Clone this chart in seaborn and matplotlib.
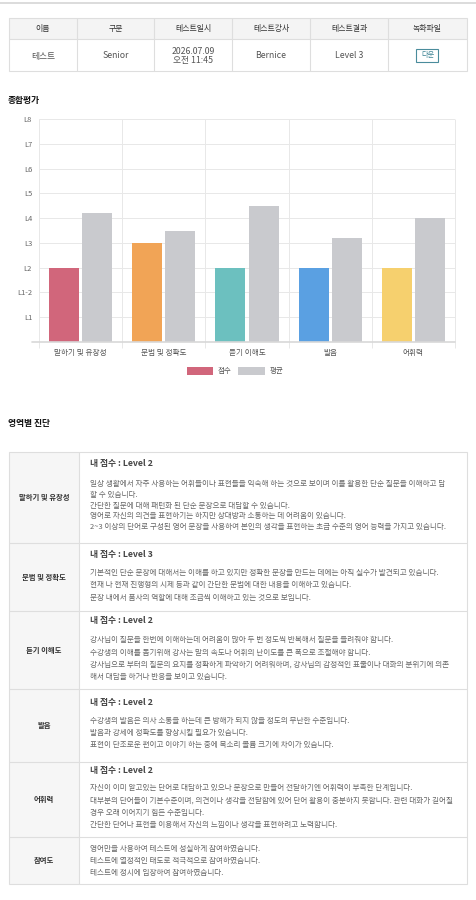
import matplotlib
matplotlib.use("Agg")
import matplotlib.pyplot as plt
from matplotlib.patches import Rectangle
from matplotlib.lines import Line2D
import seaborn as sns
import pandas as pd

# ---------------- data ----------------
categories = ['말하기 및 유창성', '문법 및 정확도', '듣기 이해도', '발음', '어휘력']
score_values = [3, 4, 3, 3, 3]
avg_values = [5.2, 4.5, 5.5, 4.2, 5.0]
series_names = ['점수', '평균']
score_colors = ['#D1667B', '#F1A456', '#6CC0BF', '#5AA0E2', '#F6D06E']
avg_color = '#C9CACE'
y_ticks = [1, 2, 3, 4, 5, 6, 7, 8, 9]
y_tick_labels = ['L1', 'L1-2', 'L2', 'L3', 'L4', 'L5', 'L6', 'L7', 'L8']

info_headers = ['이름', '구분', '테스트일시', '테스트강사', '테스트결과', '녹화파일']
info_values = ['테스트', 'Senior', '2026.07.09\n오전 11:45', 'Bernice', 'Level 3', '다운']

section_names = ['말하기 및 유창성', '문법 및 정확도', '듣기 이해도', '발음', '어휘력', '참여도']
section_levels = ['Level 2', 'Level 3', 'Level 2', 'Level 2', 'Level 2', None]
section_lines = [
    ['일상 생활에서 자주 사용하는 어휘들이나 표현들을 익숙해 하는 것으로 보이며 이를 활용한 단순 질문을 이해하고 답',
     '할 수 있습니다.',
     '간단한 질문에 대해 패턴화 된 단순 문장으로 대답할 수 있습니다.',
     '영어로 자신의 의견을 표현하기는 하지만 상대방과 소통하는 데 어려움이 있습니다.',
     '2~3 이상의 단어로 구성된 영어 문장을 사용하여 본인의 생각을 표현하는 초급 수준의 영어 능력을 가지고 있습니다.'],
    ['기본적인 단순 문장에 대해서는 이해를 하고 있지만 정확한 문장을 만드는 데에는 아직 실수가 발견되고 있습니다.',
     '현재 나 현재 진행형의 시제 등과 같이 간단한 문법에 대한 내용을 이해하고 있습니다.',
     '문장 내에서 품사의 역할에 대해 조금씩 이해하고 있는 것으로 보입니다.'],
    ['강사님이 질문을 한번에 이해하는데 어려움이 많아 두 번 정도씩 반복해서 질문을 들려줘야 합니다.',
     '수강생의 이해를 돕기위해 강사는 말의 속도나 어휘의 난이도를 큰 폭으로 조절해야 합니다.',
     '강사님으로 부터의 질문의 요지를 정확하게 파악하기 어려워하며, 강사님의 감정적인 표출이나 대화의 분위기에 의존',
     '해서 대답을 하거나 반응을 보이고 있습니다.'],
    ['수강생의 발음은 의사 소통을 하는데 큰 방해가 되지 않을 정도의 무난한 수준입니다.',
     '발음과 강세에 정확도를 향상시킬 필요가 있습니다.',
     '표현이 단조로운 편이고 이야기 하는 중에 목소리 볼륨 크기에 차이가 있습니다.'],
    ['자신이 이미 알고있는 단어로 대답하고 있으나 문장으로 만들어 전달하기엔 어휘력이 부족한 단계입니다.',
     '대부분의 단어들이 기본수준이며, 의견이나 생각을 전달함에 있어 단어 활용이 충분하지 못합니다. 관련 대화가 길어질',
     '경우 오래 이어지기 힘든 수준입니다.',
     '간단한 단어나 표현을 이용해서 자신의 느낌이나 생각을 표현하려고 노력합니다.'],
    ['영어만을 사용하여 테스트에 성실하게 참여하였습니다.',
     '테스트에 열정적인 태도로 적극적으로 참여하였습니다.',
     '테스트에 정시에 입장하여 참여하였습니다.'],
]

# ---------------- style ----------------
sns.set_style("white")
plt.rcParams['font.family'] = ['Noto Sans CJK KR', 'DejaVu Sans']

W, H = 476, 900
fig = plt.figure(figsize=(W / 100, H / 100), dpi=100)


def fx(x):
    return x / W


def fy(y):
    return 1 - y / H


def text(x, y, s, **kw):
    fig.text(fx(x), fy(y), s, **kw)


def rect(x0, y0, x1, y1, fc='none', ec='none', lw=0.8):
    fig.add_artist(Rectangle((fx(x0), fy(y1)), (x1 - x0) / W, (y1 - y0) / H,
                             transform=fig.transFigure, fc=fc, ec=ec, lw=lw))


def line(x0, y0, x1, y1, color='#DDDDDD', lw=0.8):
    fig.add_artist(Line2D([fx(x0), fx(x1)], [fy(y0), fy(y1)], color=color, lw=lw,
                          transform=fig.transFigure))


BORDER = '#DEDEDE'

# top separator line
line(0, 3, W, 3, color='#D6D6D6', lw=1.2)

# ---------------- info table ----------------
cols = [9, 77, 154, 232, 310, 388, 467]
rect(9, 18, 467, 39, fc='#F4F4F4')
rect(9, 18, 467, 71, ec=BORDER)
line(9, 39, 467, 39, color=BORDER)
for c in cols[1:-1]:
    line(c, 18, c, 71, color=BORDER)
for i, h in enumerate(info_headers):
    cx = (cols[i] + cols[i + 1]) / 2
    text(cx, 29, h, ha='center', va='center', fontsize=5.7, color='#333333')
    v = info_values[i]
    if i == len(info_headers) - 1:
        rect(416, 49, 438, 62, fc='white', ec='#4A8C9C', lw=0.8)
        text(cx, 55.5, v, ha='center', va='center', fontsize=5.2, color='#3F8494')
    else:
        text(cx, 56, v, ha='center', va='center', fontsize=6.3, color='#555555',
             linespacing=1.1)

# ---------------- chart ----------------
text(8, 101, '종합평가', ha='left', va='center', fontsize=6.3, fontweight='bold', color='#111111')

ax = fig.add_axes([fx(39), fy(342), 416 / W, 223 / H])
df = pd.DataFrame({
    'category': categories * 2,
    'series': [series_names[0]] * len(categories) + [series_names[1]] * len(categories),
    'value': score_values + avg_values,
})
sns.barplot(data=df, x='category', y='value', hue='series', order=categories,
            hue_order=series_names, palette={series_names[0]: score_colors[0], series_names[1]: avg_color},
            width=0.8, errorbar=None, saturation=1, legend=False, ax=ax, zorder=3)

bars = [p for p in ax.patches if p.get_height() > 0]
for i, p in enumerate(bars):
    w = p.get_width()
    p.set_x(p.get_x() + w * 0.05)
    p.set_width(w * 0.9)
    p.set_linewidth(0)
    if i < len(categories):
        p.set_facecolor(score_colors[i])
    else:
        p.set_facecolor(avg_color)

ax.set_xlim(-0.5, len(categories) - 0.5)
ax.set_ylim(0, 9)
for s in ax.spines.values():
    s.set_visible(False)
ax.set_yticks(y_ticks)
ax.set_yticklabels(y_tick_labels)
ax.set_xticks(range(len(categories)))
ax.set_xticklabels(categories)
ax.tick_params(axis='y', length=0, pad=5, labelsize=5.4, labelcolor='#666666')
ax.tick_params(axis='x', length=0, pad=5, labelsize=5.5, labelcolor='#555555')
ax.set_xlabel('')
ax.set_ylabel('')
for yv in y_ticks:
    ax.axhline(yv, color='#E8E8E8', lw=0.7, zorder=1)
for k in range(len(categories) + 1):
    ax.vlines(k - 0.5, -0.25, 9, color='#E8E8E8', lw=0.7, zorder=1, clip_on=False)
line(32, 342, 455, 342, color='#D8D8D8', lw=1.2)

# legend
rect(187, 367, 213, 375, fc=score_colors[0])
text(218, 371, series_names[0], ha='left', va='center', fontsize=5.4, color='#555555')
rect(238, 367, 265, 375, fc=avg_color)
text(270, 371, series_names[1], ha='left', va='center', fontsize=5.4, color='#555555')

# ---------------- diagnosis table ----------------
text(8, 424, '영역별 진단', ha='left', va='center', fontsize=6.3, fontweight='bold', color='#111111')

rows = [452, 543, 611, 689, 762, 837, 884]
title_y = [463, 555, 621, 702, 770, None]
first_y = [484, 573, 640, 721, 788, 849]
spacing = [10.8, 12.3, 12.5, 12.0, 12.5, 12.0]

rect(9, rows[0], 79, rows[-1], fc='#F6F6F6')
rect(9, rows[0], 467, rows[-1], ec=BORDER)
line(79, rows[0], 79, rows[-1], color=BORDER)
for r in rows[1:-1]:
    line(9, r, 467, r, color=BORDER)

for i, name in enumerate(section_names):
    cy = (rows[i] + rows[i + 1]) / 2
    text(44, cy, name, ha='center', va='center', fontsize=5.3, fontweight='bold', color='#333333')
    if section_levels[i] is not None:
        text(90, title_y[i], '내 점수 : ' + section_levels[i], ha='left', va='center',
             fontsize=6.3, fontweight='bold', color='#444444')
    for j, ln in enumerate(section_lines[i]):
        text(90, first_y[i] + j * spacing[i], ln, ha='left', va='center',
             fontsize=5.5, color='#666666')

fig.savefig('out.png', dpi=100, facecolor='white')
